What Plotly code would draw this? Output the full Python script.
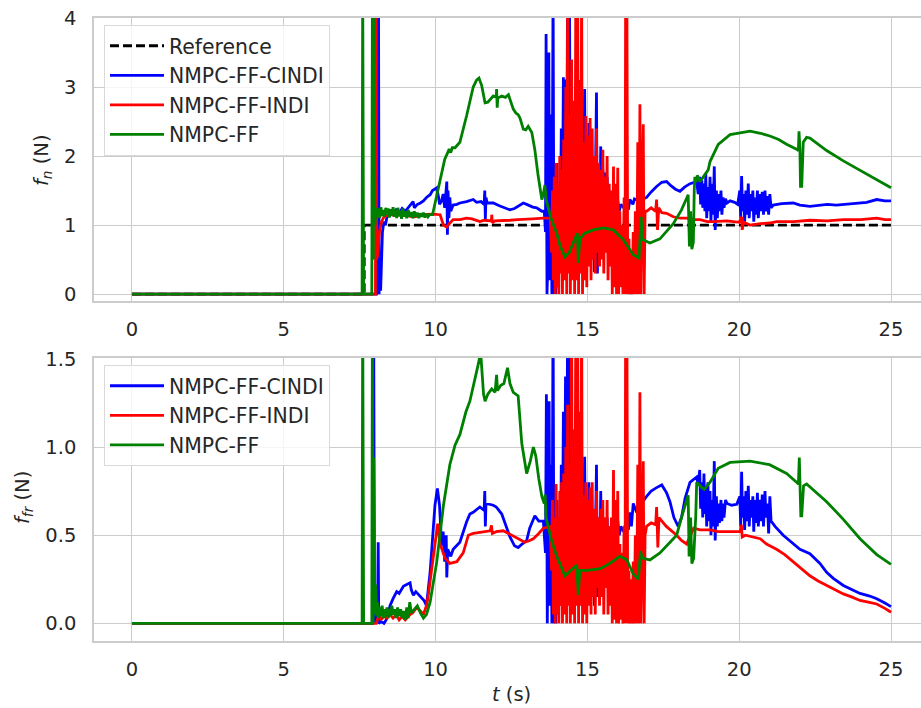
import plotly.graph_objects as go

# ---------------- data ----------------
# top panel: normal force f_n (N)
ref_top = [(0, 0), (7.65, 0), (7.65, 1), (25, 1)]

cindi_top = [
    (0, 0), (8.05, 0), (8.1, 4.5), (8.12, 4.5), (8.14, 0), (8.17, 0.5), (8.19, 0.05), (8.22, 0.7),
    (8.25, 0.9), (8.3, 1.05), (8.35, 1.0), (8.4, 1.12), (8.5, 1.2), (8.6, 1.15), (8.7, 1.22),
    (8.8, 1.17), (8.9, 1.24), (9.0, 1.2), (9.1, 1.25), (9.26, 1.34), (9.3, 1.25), (9.4, 1.3),
    (9.5, 1.32), (9.6, 1.35), (9.7, 1.4), (9.82, 1.44), (9.9, 1.5), (10.04, 1.54), (10.1, 1.4),
    (10.13, 1.3), (10.2, 1.35), (10.25, 1.45), (10.3, 1.25), (10.35, 1.6), (10.37, 1.63),
    (10.39, 0.86), (10.41, 1.5), (10.44, 1.1), (10.47, 1.4), (10.5, 1.2), (10.58, 1.29),
    (10.7, 1.3), (10.8, 1.32), (11.02, 1.34), (11.13, 1.35), (11.24, 1.37), (11.35, 1.33),
    (11.5, 1.34), (11.6, 1.3), (11.62, 1.5), (11.64, 1.08), (11.66, 1.4), (11.7, 1.32),
    (11.9, 1.32), (12.1, 1.28), (12.3, 1.25), (12.45, 1.22), (12.6, 1.24), (12.75, 1.28),
    (12.89, 1.32), (13.0, 1.3), (13.2, 1.26), (13.33, 1.25), (13.5, 1.2), (13.58, 1.2),
    (13.62, 0.9), (13.64, 3.77), (13.67, 0.0), (13.70, 0.5), (13.73, 3.5), (13.76, 0.2),
    (13.80, 2.6), (13.83, 0.0), (13.87, 4.5), (13.90, 0.0), (13.93, 1.0), (13.96, 0.0),
    (14.00, 1.9), (14.03, 0.2), (14.07, 1.5), (14.10, 0.4), (14.14, 2.4), (14.17, 0.6),
    (14.21, 3.14), (14.24, 0.8), (14.28, 3.11), (14.31, 1.0), (14.35, 4.5), (14.38, 0.5),
    (14.41, 4.5), (14.44, 0.8), (14.48, 2.6), (14.51, 0.6), (14.55, 2.2), (14.58, 0.9),
    (14.62, 1.9), (14.65, 0.7), (14.70, 2.4), (14.73, 0.9), (14.77, 1.8), (14.80, 0.6),
    (14.84, 2.2), (14.87, 1.0), (14.91, 2.97), (14.94, 0.8), (14.98, 2.0), (15.01, 0.7),
    (15.05, 2.48), (15.08, 0.9), (15.12, 1.8), (15.15, 0.5), (15.20, 1.87), (15.23, 0.32),
    (15.27, 1.5), (15.30, 2.92), (15.33, 0.3), (15.37, 1.6), (15.40, 0.6), (15.44, 2.14),
    (15.47, 0.9), (15.51, 1.8), (15.54, 1.0), (15.58, 1.76), (15.61, 1.1), (15.65, 1.7),
    (15.68, 1.0), (15.72, 1.5), (15.76, 1.1), (15.80, 1.45), (15.84, 1.15), (15.9, 1.4),
    (15.95, 1.2), (16.0, 1.35), (16.05, 1.2), (16.1, 1.3), (16.2, 1.25), (16.3, 1.32),
    (16.35, 1.22), (16.4, 1.37), (16.5, 1.3), (16.55, 1.38), (16.7, 1.35), (16.95, 1.40),
    (17.1, 1.48), (17.28, 1.56), (17.45, 1.62), (17.61, 1.63), (17.75, 1.57), (17.9, 1.52),
    (18.05, 1.49), (18.2, 1.55), (18.38, 1.6), (18.6, 1.63), (18.65, 1.45), (18.7, 1.7),
    (18.73, 1.3), (18.77, 1.65), (18.8, 1.25), (18.84, 1.6), (18.87, 1.2), (18.9, 1.75),
    (18.93, 1.1), (18.97, 1.55), (19.0, 1.2), (19.04, 1.7), (19.07, 1.05), (19.1, 1.6),
    (19.14, 1.15), (19.18, 1.85), (19.21, 0.93), (19.25, 1.5), (19.28, 1.1), (19.32, 1.45),
    (19.35, 1.2), (19.4, 1.5), (19.43, 1.15), (19.47, 1.4), (19.5, 1.25), (19.55, 1.38),
    (19.6, 1.32), (19.7, 1.35), (19.85, 1.33), (19.95, 1.3), (20.02, 1.5), (20.05, 1.1),
    (20.08, 1.71), (20.11, 1.2), (20.15, 1.45), (20.18, 1.05), (20.22, 1.5), (20.25, 1.15),
    (20.3, 1.6), (20.33, 1.1), (20.37, 1.45), (20.4, 1.2), (20.45, 1.5), (20.48, 1.05),
    (20.52, 1.4), (20.56, 1.15), (20.6, 1.5), (20.63, 1.1), (20.68, 1.45), (20.72, 1.2),
    (20.76, 1.48), (20.8, 1.15), (20.85, 1.5), (20.88, 1.2), (20.93, 1.42), (20.97, 1.15),
    (21.01, 1.45), (21.05, 1.25), (21.12, 1.29), (21.4, 1.31), (21.78, 1.32), (22.0, 1.29),
    (22.33, 1.27), (22.6, 1.28), (22.9, 1.3), (23.2, 1.29), (23.5, 1.3), (23.87, 1.32),
    (24.2, 1.33), (24.53, 1.37), (24.8, 1.35), (25.0, 1.35),
]

indi_top = [
    (0, 0), (8.02, 0), (8.04, 4.5), (8.06, 0.5), (8.1, 0.6), (8.15, 0.9), (8.22, 1.05),
    (8.3, 1.12), (8.5, 1.15), (8.97, 1.14), (9.3, 1.12), (9.6, 1.15), (9.9, 1.16), (10.15, 1.15),
    (10.26, 1.0), (10.37, 0.97), (10.45, 1.02), (10.58, 1.08), (10.8, 1.08), (11.02, 1.1),
    (11.2, 1.09), (11.46, 1.05), (11.6, 1.07), (11.84, 1.06), (11.85, 1.15), (11.87, 1.03),
    (11.95, 1.06), (12.2, 1.06), (12.45, 1.07), (12.7, 1.08), (12.94, 1.08), (13.2, 1.09),
    (13.55, 1.1), (13.78, 1.1), (13.82, 0.6), (13.85, 1.5), (13.88, 0.2), (13.91, 1.7),
    (13.94, 0.0), (13.97, 1.9), (14.00, 0.1), (14.03, 1.6), (14.06, 0.0), (14.09, 2.0),
    (14.12, 0.3), (14.15, 1.8), (14.18, 0.0), (14.22, 2.24), (14.25, 0.2), (14.29, 3.0),
    (14.32, 0.0), (14.35, 4.5), (14.38, 0.3), (14.41, 2.6), (14.44, 0.0), (14.48, 3.4),
    (14.51, 0.2), (14.55, 2.8), (14.58, 0.0), (14.62, 4.5), (14.65, 0.2), (14.68, 4.5),
    (14.71, 0.0), (14.75, 3.1), (14.78, 0.3), (14.81, 4.5), (14.84, 0.0), (14.88, 2.2),
    (14.91, 0.2), (14.95, 2.58), (14.98, 0.1), (15.02, 2.3), (15.05, 0.4), (15.09, 2.55),
    (15.12, 0.2), (15.16, 2.4), (15.19, 0.5), (15.23, 2.0), (15.26, 0.3), (15.3, 2.4),
    (15.33, 0.6), (15.37, 1.9), (15.40, 0.4), (15.44, 1.8), (15.47, 0.5), (15.51, 2.09),
    (15.54, 0.3), (15.58, 1.7), (15.61, 0.6), (15.65, 2.0), (15.68, 0.2), (15.72, 1.6),
    (15.75, 0.4), (15.79, 1.5), (15.82, 0.0), (15.86, 1.85), (15.89, 0.1), (15.93, 1.6),
    (15.96, 0.0), (16.0, 1.83), (16.03, 0.0), (16.07, 1.2), (16.1, 0.1), (16.14, 1.0),
    (16.17, 0.0), (16.21, 1.4), (16.24, 0.0), (16.26, 4.5), (16.30, 4.5), (16.33, 0.0),
    (16.37, 0.8), (16.40, 0.0), (16.44, 0.6), (16.47, 0.0), (16.51, 0.9), (16.54, 0.0),
    (16.58, 1.2), (16.62, 0.0), (16.66, 2.2), (16.70, 0.0), (16.73, 2.75), (16.76, 0.0),
    (16.80, 1.5), (16.84, 2.46), (16.87, 0.0), (16.9, 1.2), (16.95, 1.2), (17.1, 1.25),
    (17.25, 1.2), (17.28, 1.37), (17.31, 0.93), (17.35, 1.25), (17.45, 1.18), (17.61, 1.17),
    (17.83, 1.12), (18.05, 1.1), (18.27, 1.1), (18.49, 1.08), (18.71, 1.08), (18.95, 1.05),
    (19.15, 1.05), (19.4, 1.06), (19.59, 1.06), (19.8, 1.05), (20.0, 1.04), (20.08, 1.12),
    (20.1, 0.93), (20.14, 1.04), (20.36, 1.0), (20.7, 1.02), (21.0, 1.03), (21.23, 1.05),
    (21.8, 1.05), (22.33, 1.07), (22.9, 1.06), (23.43, 1.08), (24.0, 1.08), (24.53, 1.1),
    (24.8, 1.08), (25.0, 1.08),
]

ff_top = [
    (0, 0), (7.58, 0), (7.6, 4.5), (7.63, 0), (7.9, 0), (7.92, 4.5), (7.95, 0.5), (7.97, 4.5),
    (8.0, 1.0), (8.04, 1.25), (8.08, 1.12), (8.12, 1.24), (8.16, 1.1), (8.2, 1.26), (8.24, 1.13),
    (8.28, 1.22), (8.32, 1.12), (8.36, 1.25), (8.4, 1.15), (8.44, 1.24), (8.48, 1.11),
    (8.52, 1.23), (8.56, 1.14), (8.6, 1.26), (8.64, 1.12), (8.68, 1.22), (8.72, 1.1),
    (8.76, 1.25), (8.8, 1.13), (8.84, 1.21), (8.88, 1.09), (8.92, 1.24), (8.96, 1.12),
    (9.0, 1.2), (9.05, 1.1), (9.1, 1.22), (9.15, 1.12), (9.2, 1.19), (9.25, 1.1), (9.3, 1.2),
    (9.35, 1.12), (9.4, 1.18), (9.45, 1.1), (9.5, 1.17), (9.55, 1.12), (9.6, 1.18),
    (9.65, 1.11), (9.7, 1.16), (9.75, 1.12), (9.8, 1.15), (9.9, 1.15), (10.0, 1.35),
    (10.1, 1.6), (10.2, 1.8), (10.3, 1.95), (10.37, 2.02), (10.45, 2.1), (10.5, 2.05),
    (10.55, 2.12), (10.64, 2.12), (10.8, 2.2), (11.02, 2.58), (11.13, 2.78), (11.24, 3.0),
    (11.35, 3.1), (11.43, 3.13), (11.52, 3.02), (11.63, 2.77), (11.72, 2.78), (11.79, 2.82),
    (11.9, 2.87), (12.0, 2.85), (12.01, 2.97), (12.03, 2.7), (12.05, 2.84), (12.18, 2.87),
    (12.3, 2.85), (12.4, 2.89), (12.56, 2.68), (12.65, 2.62), (12.72, 2.6), (12.78, 2.55),
    (12.89, 2.39), (12.97, 2.38), (13.05, 2.43), (13.17, 2.34), (13.27, 2.09), (13.38, 1.71),
    (13.5, 1.37), (13.55, 1.45), (13.6, 1.58), (13.65, 1.35), (13.8, 1.1), (13.99, 0.88),
    (14.1, 0.7), (14.26, 0.54), (14.4, 0.6), (14.53, 0.74), (14.67, 0.88), (14.7, 0.45),
    (14.75, 0.8), (14.9, 0.88), (15.2, 0.93), (15.52, 0.96), (15.85, 0.93), (16.18, 0.79),
    (16.51, 0.57), (16.7, 0.52), (16.77, 1.12), (16.82, 0.79), (17.06, 0.74), (17.39, 0.8),
    (17.83, 1.02), (18.1, 1.22), (18.32, 1.44), (18.36, 0.69), (18.4, 1.2), (18.44, 0.65),
    (18.49, 0.75), (18.52, 1.5), (18.54, 1.7), (18.58, 1.62), (18.62, 1.72), (18.71, 1.63),
    (18.98, 1.8), (19.04, 1.92), (19.31, 2.17), (19.7, 2.31), (20.03, 2.34), (20.36, 2.36),
    (20.7, 2.33), (21.01, 2.29), (21.3, 2.24), (21.56, 2.17), (21.89, 2.1), (21.95, 2.08),
    (21.97, 2.36), (22.0, 2.1), (22.02, 1.56), (22.06, 1.56), (22.11, 2.2), (22.22, 2.27),
    (22.33, 2.26), (22.55, 2.19), (22.88, 2.08), (23.43, 1.93), (23.98, 1.79), (24.53, 1.66),
    (25.0, 1.54),
]

# bottom panel: friction force f_fr (N)
cindi_bot = [
    (0, 0), (7.93, 0), (7.96, 1.8), (7.99, 0.0), (8.05, 0.02), (8.09, 0.05), (8.11, 0.46),
    (8.13, 0.0), (8.2, 0.01), (8.3, 0.0), (8.39, 0.025), (8.5, 0.1), (8.6, 0.14), (8.72, 0.18),
    (8.8, 0.17), (8.94, 0.21), (9.05, 0.22), (9.16, 0.23), (9.2, 0.19), (9.27, 0.16),
    (9.35, 0.18), (9.45, 0.16), (9.54, 0.14), (9.62, 0.13), (9.7, 0.1), (9.82, 0.29),
    (9.98, 0.67), (10.06, 0.765), (10.13, 0.67), (10.2, 0.44), (10.25, 0.52), (10.3, 0.35),
    (10.35, 0.5), (10.37, 0.26), (10.4, 0.42), (10.5, 0.38), (10.58, 0.42), (10.8, 0.46),
    (11.02, 0.575), (11.13, 0.62), (11.24, 0.63), (11.46, 0.66), (11.6, 0.64), (11.62, 0.75),
    (11.64, 0.55), (11.66, 0.68), (11.9, 0.67), (12.0, 0.66), (12.18, 0.62), (12.3, 0.56),
    (12.45, 0.49), (12.6, 0.44), (12.72, 0.43), (12.85, 0.45), (13.0, 0.47), (13.1, 0.54),
    (13.27, 0.61), (13.4, 0.58), (13.55, 0.58), (13.62, 0.4), (13.65, 1.3), (13.68, 0.0),
    (13.71, 0.6), (13.74, 1.26), (13.77, 0.1), (13.80, 0.9), (13.83, 0.0), (13.87, 1.8),
    (13.90, 0.0), (13.93, 0.5), (13.96, 0.0), (14.0, 0.7), (14.03, 0.05), (14.07, 0.6),
    (14.1, 0.1), (14.14, 0.9), (14.17, 0.2), (14.21, 1.2), (14.24, 0.3), (14.28, 1.4),
    (14.31, 0.2), (14.35, 1.8), (14.38, 0.2), (14.41, 1.8), (14.44, 0.3), (14.48, 1.0),
    (14.51, 0.2), (14.55, 0.8), (14.58, 0.3), (14.62, 0.75), (14.65, 0.25), (14.7, 0.9),
    (14.73, 0.3), (14.77, 0.7), (14.8, 0.2), (14.84, 0.8), (14.87, 0.35), (14.91, 0.945),
    (14.94, 0.3), (14.98, 0.7), (15.01, 0.25), (15.05, 0.8), (15.08, 0.35), (15.12, 0.65),
    (15.15, 0.2), (15.2, 0.6), (15.23, 0.1), (15.27, 0.5), (15.30, 0.9), (15.33, 0.15),
    (15.37, 0.6), (15.40, 0.25), (15.44, 0.75), (15.47, 0.3), (15.51, 0.6), (15.54, 0.35),
    (15.58, 0.575), (15.61, 0.4), (15.65, 0.6), (15.68, 0.4), (15.72, 0.55), (15.76, 0.42),
    (15.8, 0.58), (15.84, 0.45), (15.9, 0.55), (15.95, 0.48), (16.0, 0.58), (16.05, 0.5),
    (16.1, 0.55), (16.2, 0.52), (16.3, 0.6), (16.35, 0.53), (16.4, 0.63), (16.45, 0.55),
    (16.51, 0.68), (16.6, 0.64), (16.7, 0.66), (16.95, 0.72), (17.1, 0.75), (17.28, 0.77),
    (17.45, 0.785), (17.61, 0.74), (17.72, 0.69), (17.85, 0.6), (17.99, 0.55), (18.1, 0.6),
    (18.22, 0.71), (18.38, 0.8), (18.6, 0.83), (18.65, 0.78), (18.7, 0.87), (18.73, 0.65),
    (18.77, 0.8), (18.8, 0.6), (18.84, 0.85), (18.87, 0.62), (18.9, 0.78), (18.93, 0.55),
    (18.97, 0.8), (19.0, 0.58), (19.04, 0.75), (19.07, 0.5), (19.1, 0.7), (19.14, 0.55),
    (19.18, 0.92), (19.21, 0.47), (19.25, 0.72), (19.28, 0.55), (19.32, 0.68), (19.35, 0.57),
    (19.4, 0.7), (19.43, 0.58), (19.47, 0.68), (19.5, 0.6), (19.55, 0.7), (19.6, 0.68),
    (19.75, 0.67), (19.92, 0.675), (20.02, 0.72), (20.05, 0.55), (20.08, 0.86), (20.11, 0.6),
    (20.15, 0.72), (20.18, 0.53), (20.22, 0.75), (20.25, 0.58), (20.3, 0.78), (20.33, 0.55),
    (20.37, 0.7), (20.4, 0.6), (20.45, 0.72), (20.48, 0.52), (20.52, 0.7), (20.56, 0.57),
    (20.6, 0.74), (20.63, 0.55), (20.68, 0.7), (20.72, 0.58), (20.76, 0.73), (20.8, 0.55),
    (20.85, 0.75), (20.88, 0.6), (20.93, 0.68), (20.97, 0.51), (21.01, 0.72), (21.05, 0.58),
    (21.18, 0.55), (21.45, 0.5), (21.78, 0.45), (22.0, 0.42), (22.33, 0.395), (22.66, 0.34),
    (22.88, 0.29), (23.1, 0.255), (23.43, 0.215), (23.76, 0.19), (23.98, 0.17), (24.3, 0.155),
    (24.53, 0.14), (24.8, 0.115), (25.0, 0.095),
]

indi_bot = [
    (0, 0), (8.05, 0), (8.1, 0.03), (8.15, 0.05), (8.2, 0.02), (8.3, 0.04), (8.4, 0.03),
    (8.5, 0.05), (8.6, 0.03), (8.7, 0.05), (8.8, 0.02), (8.9, 0.04), (9.0, 0.02), (9.1, 0.04),
    (9.16, 0.05), (9.25, 0.06), (9.38, 0.09), (9.5, 0.07), (9.6, 0.05), (9.7, 0.1),
    (9.76, 0.16), (9.93, 0.385), (10.07, 0.565), (10.15, 0.45), (10.31, 0.37), (10.47, 0.34),
    (10.7, 0.35), (10.91, 0.40), (11.08, 0.5), (11.24, 0.51), (11.57, 0.52), (11.8, 0.525),
    (11.84, 0.556), (11.87, 0.51), (12.0, 0.52), (12.23, 0.525), (12.4, 0.51), (12.62, 0.49),
    (12.8, 0.47), (12.94, 0.46), (13.1, 0.47), (13.22, 0.48), (13.4, 0.51), (13.55, 0.54),
    (13.78, 0.55), (13.82, 0.3), (13.85, 0.7), (13.88, 0.05), (13.91, 0.6), (13.94, 0.0),
    (13.97, 0.79), (14.0, 0.05), (14.03, 0.6), (14.06, 0.0), (14.09, 0.75), (14.12, 0.1),
    (14.15, 0.8), (14.18, 0.0), (14.22, 0.85), (14.25, 0.05), (14.29, 1.0), (14.32, 0.0),
    (14.35, 1.24), (14.38, 0.1), (14.41, 0.9), (14.44, 0.0), (14.48, 1.8), (14.51, 0.05),
    (14.55, 1.1), (14.58, 0.0), (14.62, 1.8), (14.65, 0.1), (14.68, 1.8), (14.71, 0.0),
    (14.75, 1.2), (14.78, 0.1), (14.81, 1.8), (14.84, 0.0), (14.88, 0.73), (14.91, 0.05),
    (14.95, 0.8), (14.98, 0.0), (15.02, 0.7), (15.05, 0.1), (15.09, 0.77), (15.12, 0.05),
    (15.16, 0.8), (15.19, 0.15), (15.23, 0.65), (15.26, 0.05), (15.3, 0.75), (15.33, 0.2),
    (15.37, 0.6), (15.4, 0.1), (15.44, 0.65), (15.47, 0.15), (15.51, 0.7), (15.54, 0.05),
    (15.58, 0.6), (15.61, 0.2), (15.65, 0.7), (15.68, 0.05), (15.72, 0.55), (15.75, 0.1),
    (15.79, 0.6), (15.82, 0.0), (15.86, 0.87), (15.89, 0.02), (15.93, 0.7), (15.96, 0.0),
    (16.0, 0.75), (16.03, 0.0), (16.07, 0.45), (16.1, 0.02), (16.14, 0.4), (16.17, 0.0),
    (16.21, 0.55), (16.24, 0.0), (16.26, 1.8), (16.30, 1.8), (16.33, 0.0), (16.37, 0.3),
    (16.40, 0.0), (16.44, 0.25), (16.47, 0.0), (16.51, 0.35), (16.54, 0.0), (16.58, 0.5),
    (16.62, 0.0), (16.66, 0.9), (16.70, 0.0), (16.73, 1.31), (16.76, 0.0), (16.80, 0.6),
    (16.84, 0.92), (16.87, 0.0), (16.9, 0.5), (16.95, 0.55), (17.1, 0.57), (17.25, 0.56),
    (17.28, 0.66), (17.3, 0.56), (17.32, 0.43), (17.36, 0.6), (17.45, 0.58), (17.6, 0.55),
    (17.94, 0.5), (18.1, 0.47), (18.27, 0.45), (18.4, 0.5), (18.5, 0.54), (18.71, 0.53),
    (19.04, 0.53), (19.3, 0.52), (19.59, 0.52), (19.85, 0.52), (20.03, 0.52), (20.07, 0.56),
    (20.1, 0.49), (20.2, 0.5), (20.44, 0.49), (20.69, 0.48), (20.9, 0.45), (21.23, 0.42),
    (21.5, 0.39), (21.78, 0.35), (22.05, 0.31), (22.33, 0.27), (22.6, 0.24), (22.88, 0.215),
    (23.15, 0.19), (23.43, 0.167), (23.7, 0.15), (23.98, 0.13), (24.25, 0.12), (24.53, 0.11),
    (24.8, 0.085), (25.0, 0.063),
]

ff_bot = [
    (0, 0), (7.58, 0), (7.6, 1.8), (7.63, 0), (7.9, 0), (7.92, 1.8), (7.94, 0.0), (7.96, 0.94),
    (7.99, 0.05), (8.03, 0.22), (8.06, 0.04), (8.09, 0.12), (8.12, 0.03), (8.16, 0.09),
    (8.2, 0.04), (8.24, 0.1), (8.28, 0.03), (8.32, 0.08), (8.36, 0.04), (8.4, 0.09),
    (8.44, 0.03), (8.48, 0.08), (8.52, 0.04), (8.56, 0.1), (8.6, 0.05), (8.65, 0.08),
    (8.7, 0.03), (8.75, 0.09), (8.8, 0.04), (8.85, 0.08), (8.9, 0.03), (8.95, 0.07),
    (9.0, 0.02), (9.05, 0.09), (9.1, 0.03), (9.15, 0.12), (9.2, 0.06), (9.3, 0.08),
    (9.4, 0.1), (9.5, 0.06), (9.6, 0.03), (9.7, 0.05), (9.82, 0.12), (10.04, 0.35),
    (10.26, 0.67), (10.47, 0.9), (10.64, 1.01), (10.8, 1.07), (11.0, 1.2), (11.13, 1.26),
    (11.3, 1.38), (11.42, 1.48), (11.46, 1.52), (11.5, 1.5), (11.58, 1.3), (11.63, 1.26),
    (11.72, 1.3), (11.85, 1.33), (11.96, 1.31), (12.01, 1.41), (12.04, 1.32), (12.15, 1.35),
    (12.25, 1.36), (12.37, 1.45), (12.45, 1.36), (12.56, 1.31), (12.72, 1.29), (12.84, 1.02),
    (13.0, 0.85), (13.12, 0.92), (13.22, 1.0), (13.3, 0.95), (13.4, 0.82), (13.5, 0.72),
    (13.58, 0.68), (13.61, 0.73), (13.64, 0.6), (13.8, 0.48), (13.99, 0.38), (14.26, 0.27),
    (14.45, 0.3), (14.65, 0.33), (14.7, 0.16), (14.75, 0.3), (15.0, 0.3), (15.42, 0.31),
    (15.74, 0.34), (16.07, 0.38), (16.3, 0.36), (16.51, 0.28), (16.68, 0.25), (16.75, 0.41),
    (16.8, 0.37), (17.06, 0.36), (17.39, 0.4), (17.94, 0.5), (18.1, 0.6), (18.32, 0.727),
    (18.35, 0.38), (18.4, 0.6), (18.44, 0.34), (18.5, 0.37), (18.57, 0.61), (18.6, 0.8),
    (18.77, 0.77), (18.85, 0.76), (19.04, 0.80), (19.31, 0.88), (19.7, 0.913), (20.36, 0.92),
    (21.0, 0.9), (21.56, 0.85), (21.89, 0.80), (21.95, 0.79), (21.98, 0.94), (22.01, 0.78),
    (22.03, 0.61), (22.06, 0.61), (22.12, 0.78), (22.22, 0.79), (22.55, 0.74), (22.88, 0.69),
    (23.43, 0.59), (23.98, 0.48), (24.53, 0.39), (25.0, 0.335),
]

series_names = ["Reference", "NMPC-FF-CINDI", "NMPC-FF-INDI", "NMPC-FF"]
x_ticks = [0, 5, 10, 15, 20, 25]
y_ticks_top = [0, 1, 2, 3, 4]
y_ticks_bot = [0.0, 0.5, 1.0, 1.5]
y_ticktext_bot = ["0.0", "0.5", "1.0", "1.5"]

# ---------------- styling ----------------
FONT = "DejaVu Sans"
TXT = "#262626"
GRID = "#cccccc"
colors = {"Reference": "black", "NMPC-FF-CINDI": "#0000ff", "NMPC-FF-INDI": "#ff0000", "NMPC-FF": "#008000"}
LW = 2.8
TICK_FS = 19.5
LEG_FS = 20.4


def xy(pairs):
    return [p[0] for p in pairs], [p[1] for p in pairs]


fig = go.Figure()

top_data = [ref_top, cindi_top, indi_top, ff_top]
for name, pairs in zip(series_names, top_data):
    x, y = xy(pairs)
    fig.add_trace(go.Scatter(
        x=x, y=y, mode="lines", name=name, legend="legend",
        line=dict(color=colors[name], width=LW, dash="9px,4px" if name == "Reference" else "solid"),
        xaxis="x", yaxis="y", hoverinfo="skip"))

bot_data = [cindi_bot, indi_bot, ff_bot]
for name, pairs in zip(series_names[1:], bot_data):
    x, y = xy(pairs)
    fig.add_trace(go.Scatter(
        x=x, y=y, mode="lines", name=name, legend="legend2",
        line=dict(color=colors[name], width=LW),
        xaxis="x2", yaxis="y2", hoverinfo="skip"))

L, R, T, B = 94, 0, 18, 67
W, H = 921, 708
ph = H - T - B
top_dom = [(H - B - 301) / ph, 1.0]
bot_dom = [0.0, (H - B - 358) / ph]
xr = [-1.25, (921 - 132) / 30.36]

axis_common = dict(
    showgrid=True, gridcolor=GRID, gridwidth=1.4, zeroline=False,
    showline=True, linecolor=GRID, linewidth=1.6,
    tickfont=dict(family=FONT, size=TICK_FS, color=TXT), ticks="",
)

legend_common = dict(
    xanchor="left", yanchor="top", bgcolor="rgba(255,255,255,0.8)",
    bordercolor="#d9d9d9", borderwidth=1, itemwidth=54,
    font=dict(family=FONT, size=LEG_FS, color=TXT),
)

fig.update_layout(
    width=W, height=H, margin=dict(l=L, r=R, t=T, b=B),
    paper_bgcolor="white", plot_bgcolor="white",
    font=dict(family=FONT, color=TXT, size=TICK_FS),
    xaxis=dict(domain=[0, 1], anchor="y", range=xr, tickvals=x_ticks, mirror=True,
               ticklabelstandoff=10, **axis_common),
    yaxis=dict(domain=top_dom, anchor="x", range=[-0.1, 4.0], tickvals=y_ticks_top,
               ticklabelstandoff=12, **axis_common),
    xaxis2=dict(domain=[0, 1], anchor="y2", range=xr, tickvals=x_ticks, mirror=True,
                ticklabelstandoff=10, **axis_common),
    yaxis2=dict(domain=bot_dom, anchor="x2", range=[-0.1, 1.505], tickvals=y_ticks_bot,
                ticktext=y_ticktext_bot, ticklabelstandoff=12, **axis_common),
    legend=dict(x=(104 - L) / (W - L), y=(H - B - 25) / ph, **legend_common),
    legend2=dict(x=(104 - L) / (W - L), y=(H - B - 365) / ph, **legend_common),
    showlegend=True,
)

annots = [
    dict(text="<i>f</i><sub><i>n</i></sub> (N)", x=(43 - L) / (W - L), y=(H - B - 160) / ph,
         textangle=-90),
    dict(text="<i>f</i><sub><i>fr</i></sub> (N)", x=(23 - L) / (W - L), y=(H - B - 498) / ph,
         textangle=-90),
    dict(text="<i>t</i> (s)", x=(511 - L) / (W - L), y=(H - B - 694) / ph, textangle=0),
]
for a in annots:
    fig.add_annotation(xref="paper", yref="paper", showarrow=False, xanchor="center",
                       yanchor="middle", font=dict(family=FONT, size=TICK_FS, color=TXT), **a)

fig.write_html("out.html")
